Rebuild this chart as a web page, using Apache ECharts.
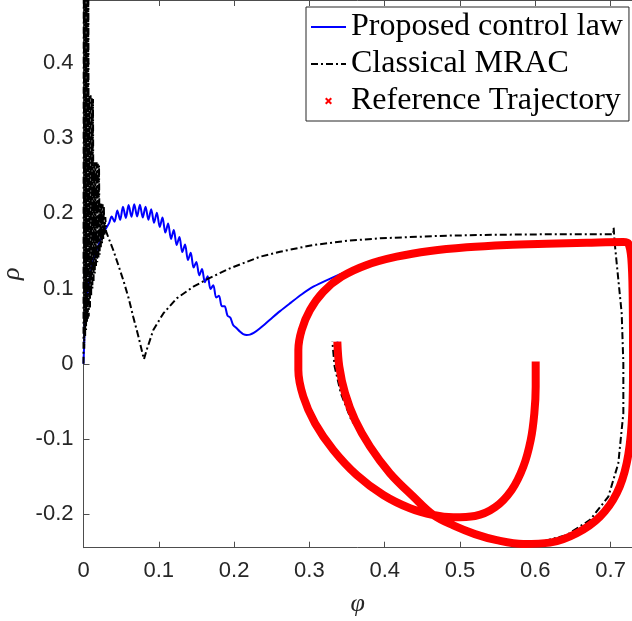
<!DOCTYPE html>
<html>
<head>
<meta charset="utf-8">
<script src="https://cdn.jsdelivr.net/npm/echarts@6/dist/echarts.min.js"></script>
<style>
  html, body { margin: 0; padding: 0; background: #ffffff; }
  #chart { width: 632px; height: 621px; }
</style>
</head>
<body>
<div id="chart"></div>
<script>
// Tick positions on both axes
const X_TICKS = [0, 0.1, 0.2, 0.3, 0.4, 0.5, 0.6, 0.7];
const Y_TICKS = [-0.2, -0.1, 0, 0.1, 0.2, 0.3, 0.4];

// Phase-plane trajectory (phi, rho) under the proposed control law
const PROPOSED = [
  [0, 0], [0.001, 0.03], [0.002, 0.058], [0.004, 0.082], [0.0064, 0.1025], [0.009, 0.118],
  [0.011, 0.129], [0.014, 0.141], [0.0175, 0.151], [0.021, 0.161], [0.024, 0.169],
  [0.028, 0.177], [0.031, 0.182], [0.034, 0.187],
  [0.0374, 0.196], [0.0412, 0.189], [0.0449, 0.204], [0.0487, 0.1915], [0.0524, 0.209],
  [0.0562, 0.194], [0.0599, 0.211], [0.0637, 0.1955], [0.0674, 0.212], [0.0712, 0.196],
  [0.0749, 0.2115], [0.0787, 0.1945], [0.0824, 0.209], [0.0862, 0.1915], [0.0899, 0.2055],
  [0.0937, 0.1875], [0.0974, 0.201], [0.1012, 0.182], [0.1049, 0.1945], [0.1087, 0.1745],
  [0.1124, 0.1865], [0.1162, 0.166], [0.1199, 0.178], [0.1237, 0.158], [0.1274, 0.1685],
  [0.1312, 0.1485], [0.1349, 0.1585], [0.1387, 0.138], [0.1424, 0.1475], [0.1462, 0.128],
  [0.1499, 0.1355], [0.1537, 0.1175], [0.1574, 0.126], [0.1612, 0.1085], [0.1649, 0.1165],
  [0.1687, 0.0995], [0.1724, 0.1045], [0.1762, 0.0880], [0.1799, 0.0905], [0.1837, 0.0765],
  [0.1874, 0.0765], [0.1912, 0.0640], [0.1949, 0.0615], [0.1987, 0.0515],
  [0.2030, 0.0475], [0.2080, 0.0425], [0.2120, 0.0395], [0.2167, 0.0383], [0.2210, 0.0388],
  [0.2260, 0.0410], [0.2340, 0.047], [0.2480, 0.059], [0.2610, 0.070], [0.2750, 0.081],
  [0.2900, 0.0925], [0.3052, 0.1025], [0.3270, 0.113], [0.3495, 0.1225], [0.3720, 0.130],
  [0.3938, 0.1358], [0.4160, 0.141], [0.4380, 0.1447], [0.4602, 0.1495],
  [0.5089, 0.1549], [0.562, 0.158], [0.6151, 0.1597], [0.6683, 0.161], [0.7169, 0.162],
  [0.7235, 0.1602], [0.7275, 0.140], [0.7293, 0.0893], [0.7298, 0.000], [0.728, -0.0791],
  [0.7213, -0.1324], [0.7081, -0.1722], [0.6859, -0.2033], [0.655, -0.2254], [0.6195, -0.2379],
  [0.5841, -0.2396], [0.5487, -0.2345], [0.5199, -0.2265], [0.4911, -0.2150], [0.4646, -0.2011],
  [0.438, -0.1767], [0.407, -0.1456], [0.3805, -0.1102], [0.3606, -0.0747], [0.3473, -0.0392],
  [0.3397, -0.0038], [0.3371, 0.0294]
];

// Phase-plane trajectory under classical MRAC
const MRAC = [
  [0, 0], [0.0004, 0.62], [0.0010, 0.02], [0.0016, 0.62], [0.0022, 0.035], [0.0028, 0.62],
  [0.0034, 0.045], [0.0040, 0.62], [0.0046, 0.055], [0.0052, 0.62], [0.0058, 0.06],
  [0.0064, 0.55], [0.0070, 0.063],
  [0.0078, 0.357], [0.0086, 0.075], [0.0094, 0.357], [0.0102, 0.09], [0.0110, 0.355],
  [0.0118, 0.10], [0.0126, 0.352], [0.0134, 0.11],
  [0.0142, 0.268], [0.0150, 0.12], [0.0158, 0.268], [0.0166, 0.13], [0.0174, 0.268],
  [0.0182, 0.135], [0.0190, 0.266], [0.0198, 0.14], [0.0206, 0.264], [0.0214, 0.145],
  [0.0222, 0.213], [0.0230, 0.155], [0.0238, 0.213], [0.0246, 0.16], [0.0254, 0.212],
  [0.0262, 0.165], [0.0270, 0.21], [0.0278, 0.17], [0.0290, 0.195], [0.0300, 0.176],
  [0.0330, 0.168], [0.0396, 0.151], [0.0460, 0.132], [0.0529, 0.111], [0.0600, 0.087],
  [0.0660, 0.0626], [0.0730, 0.036], [0.0794, 0.0094], [0.0803, 0.006], [0.0839, 0.0184],
  [0.0927, 0.045], [0.106, 0.067], [0.1238, 0.087], [0.1458, 0.1025], [0.1644, 0.1125],
  [0.1946, 0.127], [0.2344, 0.1424], [0.261, 0.149], [0.3052, 0.158], [0.35, 0.1635],
  [0.3938, 0.1669], [0.4823, 0.1704], [0.55, 0.1716], [0.6151, 0.1722], [0.7036, 0.1722],
  [0.7040, 0.181], [0.7055, 0.160], [0.7081, 0.1336], [0.7147, 0.0672], [0.7169, 0.0007],
  [0.7169, -0.0658], [0.7102, -0.1324], [0.697, -0.1767], [0.6726, -0.2077], [0.6417, -0.2277],
  [0.6063, -0.2374], [0.5708, -0.2365], [0.5487, -0.2345], [0.5199, -0.2265], [0.4911, -0.2150],
  [0.4646, -0.2011], [0.438, -0.1767], [0.407, -0.1456], [0.3805, -0.1102], [0.3556, -0.0747],
  [0.3418, -0.0392], [0.3335, -0.0038], [0.3305, 0.0294]
];

// Reference trajectory to be tracked
const REFERENCE = [
  [0.6005, 0.003], [0.6005, -0.0304], [0.5987, -0.0658], [0.5939, -0.1013], [0.5841, -0.1368],
  [0.5686, -0.1678], [0.5465, -0.1909], [0.5199, -0.2024], [0.4911, -0.2041], [0.4646, -0.2011],
  [0.4336, -0.1922], [0.3981, -0.1745], [0.3628, -0.1479], [0.3317, -0.1146], [0.3074, -0.0791],
  [0.2919, -0.0437], [0.2853, -0.0082], [0.2853, 0.0184], [0.2897, 0.0449], [0.3008, 0.0715],
  [0.3185, 0.0959], [0.3429, 0.1158], [0.3761, 0.1314], [0.4159, 0.1424], [0.4602, 0.150],
  [0.5089, 0.1549], [0.562, 0.158], [0.6151, 0.1597], [0.6683, 0.161], [0.7169, 0.162],
  [0.7235, 0.1602], [0.7275, 0.140], [0.7293, 0.0893], [0.7298, 0.000], [0.728, -0.0791],
  [0.7213, -0.1324], [0.7081, -0.1722], [0.6859, -0.2033], [0.655, -0.2254], [0.6195, -0.2379],
  [0.5841, -0.2396], [0.5487, -0.2345], [0.5199, -0.2265], [0.4911, -0.2150], [0.4646, -0.2011],
  [0.438, -0.1767], [0.407, -0.1456], [0.3805, -0.1102], [0.3606, -0.0747], [0.3473, -0.0392],
  [0.3397, -0.0038], [0.3371, 0.0294]
];

const SERIES_NAMES = ['Proposed control law', 'Classical MRAC', 'Reference Trajectory'];

const AXIS_COLOR = '#4d4d4d';
const TEXT_COLOR = '#262626';
const X_RANGE = [0, 0.7284];
const Y_RANGE = [-0.2446, 0.4838];

const fmt = v => String(Math.round(v * 10) / 10);

const chart = echarts.init(document.getElementById('chart'));

chart.setOption({
  animation: false,
  backgroundColor: '#ffffff',
  grid: { left: 83.5, right: 0, top: 0, bottom: 73.3, containLabel: false, outerBoundsMode: 'none' },
  xAxis: [
    {
      type: 'value', position: 'bottom', min: X_RANGE[0], max: X_RANGE[1],
      axisLine: { show: true, onZero: false, lineStyle: { color: AXIS_COLOR, width: 1 } },
      axisTick: { show: true, inside: true, length: 6, customValues: X_TICKS,
        lineStyle: { color: AXIS_COLOR, width: 1 } },
      axisLabel: { show: true, customValues: X_TICKS, formatter: fmt, margin: 12,
        fontFamily: 'Liberation Sans', fontSize: 22, color: TEXT_COLOR },
      splitLine: { show: false },
      name: 'φ', nameLocation: 'middle', nameGap: 43,
      nameTextStyle: { fontFamily: 'Liberation Serif', fontStyle: 'italic', fontSize: 26, color: TEXT_COLOR }
    },
    {
      type: 'value', position: 'top', min: X_RANGE[0], max: X_RANGE[1],
      axisLine: { show: true, onZero: false, lineStyle: { color: AXIS_COLOR, width: 1 } },
      axisTick: { show: true, inside: true, length: 6, customValues: X_TICKS,
        lineStyle: { color: AXIS_COLOR, width: 1 } },
      axisLabel: { show: false },
      splitLine: { show: false }
    }
  ],
  yAxis: {
    type: 'value', min: Y_RANGE[0], max: Y_RANGE[1],
    axisLine: { show: true, onZero: false, lineStyle: { color: AXIS_COLOR, width: 1 } },
    axisTick: { show: true, inside: true, length: 6, customValues: Y_TICKS,
      lineStyle: { color: AXIS_COLOR, width: 1 } },
    axisLabel: { show: true, customValues: Y_TICKS, formatter: fmt, margin: 10,
      fontFamily: 'Liberation Sans', fontSize: 22, color: TEXT_COLOR },
    splitLine: { show: false },
    name: 'ρ', nameLocation: 'middle', nameGap: 52, nameRotate: 90,
    nameTextStyle: { fontFamily: 'Liberation Serif', fontStyle: 'italic', fontSize: 26, color: TEXT_COLOR }
  },
  legend: {
    orient: 'vertical', left: 306, top: 7,
    padding: [4, 6, 4, 4], itemWidth: 35, itemHeight: 7, itemGap: 5,
    borderColor: '#262626', borderWidth: 1, backgroundColor: '#ffffff',
    selectedMode: false,
    textStyle: { fontFamily: 'Liberation Serif', fontSize: 32, lineHeight: 32, color: '#000000' },
    data: [
      { name: SERIES_NAMES[0], itemStyle: { opacity: 0 } },
      { name: SERIES_NAMES[1], itemStyle: { opacity: 0 } },
      { name: SERIES_NAMES[2],
        icon: 'path://M0,2L2,0L5,3L8,0L10,2L7,5L10,8L8,10L5,7L2,10L0,8L3,5Z',
        itemStyle: { color: '#ff0000' } }
    ]
  },
  series: [
    {
      name: SERIES_NAMES[0], type: 'line', data: PROPOSED, xAxisIndex: 0,
      symbol: 'none', showSymbol: false, color: '#0000ff', smooth: 0.3,
      lineStyle: { color: '#0000ff', width: 2 }
    },
    {
      name: SERIES_NAMES[1], type: 'line', data: MRAC, xAxisIndex: 0,
      symbol: 'none', showSymbol: false, color: '#000000', smooth: false,
      lineStyle: { color: '#000000', width: 2, type: [7, 3, 2, 3] }
    },
    {
      name: SERIES_NAMES[2], type: 'line', data: REFERENCE, xAxisIndex: 0,
      symbol: 'none', showSymbol: false, color: '#ff0000', smooth: 0.35,
      lineStyle: { color: '#ff0000', width: 8, cap: 'butt', join: 'round' }
    }
  ]
});
</script>
</body>
</html>
